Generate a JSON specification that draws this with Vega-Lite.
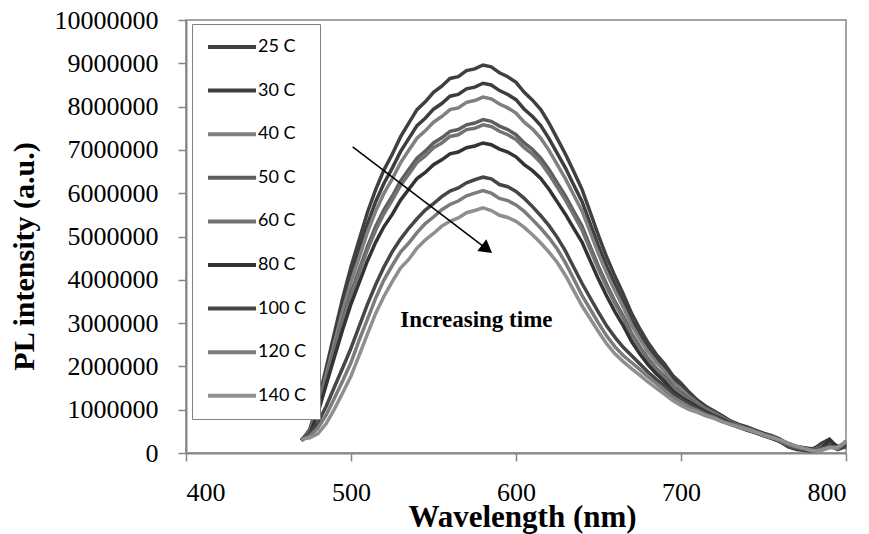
{
  "$schema": "https://vega.github.io/schema/vega-lite/v6.json",
  "width": 660,
  "height": 433,
  "autosize": "none",
  "padding": {"left": 186, "top": 20, "right": 23, "bottom": 81},
  "background": "white",
  "config": {
    "view": {"stroke": "#868686", "strokeWidth": 1.5},
    "axis": {
      "domainColor": "#868686", "domainWidth": 2, "tickColor": "#868686", "tickWidth": 1.5, "tickSize": 8,
      "grid": false, "labelFont": "Liberation Serif", "labelFontSize": 26, "labelColor": "#000",
      "titleFont": "Liberation Serif", "titleFontWeight": "bold", "titleColor": "#000"
    },
    "legend": {
      "orient": "none", "legendX": 6, "legendY": 4, "padding": 14,
      "strokeColor": "#808080", "fillColor": "white",
      "symbolType": "M0,0H24", "symbolSize": 16, "symbolStrokeWidth": 4, "symbolOffset": -7,
      "labelOffset": 41, "labelFont": "Lato", "labelFontSize": 18, "labelColor": "#000",
      "rowPadding": 25.6
    }
  },
  "datasets": {
    "spectra": [
      {"w":470,"25 C":280000,"30 C":300000,"40 C":300000,"50 C":300000,"60 C":300000,"80 C":300000,"100 C":300000,"120 C":300000,"140 C":320000},
      {"w":475,"25 C":540000,"30 C":510000,"40 C":490000,"50 C":460000,"60 C":450000,"80 C":430000,"100 C":450000,"120 C":390000,"140 C":350000},
      {"w":480,"25 C":1160000,"30 C":1110000,"40 C":1070000,"50 C":1000000,"60 C":990000,"80 C":930000,"100 C":700000,"120 C":580000,"140 C":450000},
      {"w":485,"25 C":1970000,"30 C":1880000,"40 C":1810000,"50 C":1690000,"60 C":1670000,"80 C":1580000,"100 C":1080000,"120 C":880000,"140 C":680000},
      {"w":490,"25 C":2780000,"30 C":2650000,"40 C":2550000,"50 C":2390000,"60 C":2350000,"80 C":2220000,"100 C":1530000,"120 C":1270000,"140 C":1020000},
      {"w":495,"25 C":3580000,"30 C":3420000,"40 C":3290000,"50 C":3080000,"60 C":3030000,"80 C":2860000,"100 C":1970000,"120 C":1670000,"140 C":1390000},
      {"w":500,"25 C":4300000,"30 C":4100000,"40 C":3950000,"50 C":3700000,"60 C":3640000,"80 C":3440000,"100 C":2420000,"120 C":2090000,"140 C":1780000},
      {"w":505,"25 C":4930000,"30 C":4700000,"40 C":4520000,"50 C":4240000,"60 C":4170000,"80 C":3940000,"100 C":2930000,"120 C":2610000,"140 C":2260000},
      {"w":510,"25 C":5560000,"30 C":5290000,"40 C":5100000,"50 C":4770000,"60 C":4700000,"80 C":4440000,"100 C":3440000,"120 C":3090000,"140 C":2750000},
      {"w":515,"25 C":6090000,"30 C":5810000,"40 C":5590000,"50 C":5240000,"60 C":5150000,"80 C":4870000,"100 C":3890000,"120 C":3580000,"140 C":3230000},
      {"w":520,"25 C":6540000,"30 C":6230000,"40 C":6000000,"50 C":5620000,"60 C":5530000,"80 C":5230000,"100 C":4300000,"120 C":4000000,"140 C":3620000},
      {"w":525,"25 C":6900000,"30 C":6580000,"40 C":6330000,"50 C":5930000,"60 C":5840000,"80 C":5510000,"100 C":4650000,"120 C":4330000,"140 C":3960000},
      {"w":530,"25 C":7300000,"30 C":6960000,"40 C":6700000,"50 C":6280000,"60 C":6180000,"80 C":5840000,"100 C":4940000,"120 C":4640000,"140 C":4270000},
      {"w":535,"25 C":7620000,"30 C":7260000,"40 C":6990000,"50 C":6550000,"60 C":6440000,"80 C":6090000,"100 C":5190000,"120 C":4850000,"140 C":4470000},
      {"w":540,"25 C":7930000,"30 C":7560000,"40 C":7270000,"50 C":6810000,"60 C":6710000,"80 C":6340000,"100 C":5410000,"120 C":5090000,"140 C":4730000},
      {"w":545,"25 C":8110000,"30 C":7730000,"40 C":7440000,"50 C":6970000,"60 C":6860000,"80 C":6480000,"100 C":5610000,"120 C":5300000,"140 C":4920000},
      {"w":550,"25 C":8330000,"30 C":7940000,"40 C":7640000,"50 C":7160000,"60 C":7050000,"80 C":6660000,"100 C":5760000,"120 C":5450000,"140 C":5070000},
      {"w":555,"25 C":8470000,"30 C":8070000,"40 C":7770000,"50 C":7280000,"60 C":7160000,"80 C":6770000,"100 C":5920000,"120 C":5620000,"140 C":5240000},
      {"w":560,"25 C":8650000,"30 C":8240000,"40 C":7930000,"50 C":7430000,"60 C":7310000,"80 C":6910000,"100 C":6050000,"120 C":5740000,"140 C":5350000},
      {"w":565,"25 C":8690000,"30 C":8280000,"40 C":7970000,"50 C":7470000,"60 C":7350000,"80 C":6950000,"100 C":6120000,"120 C":5820000,"140 C":5430000},
      {"w":570,"25 C":8830000,"30 C":8410000,"40 C":8100000,"50 C":7580000,"60 C":7470000,"80 C":7050000,"100 C":6240000,"120 C":5940000,"140 C":5550000},
      {"w":575,"25 C":8870000,"30 C":8450000,"40 C":8140000,"50 C":7620000,"60 C":7500000,"80 C":7090000,"100 C":6310000,"120 C":6000000,"140 C":5600000},
      {"w":580,"25 C":8960000,"30 C":8540000,"40 C":8220000,"50 C":7700000,"60 C":7580000,"80 C":7160000,"100 C":6370000,"120 C":6060000,"140 C":5660000},
      {"w":585,"25 C":8920000,"30 C":8500000,"40 C":8180000,"50 C":7660000,"60 C":7540000,"80 C":7120000,"100 C":6330000,"120 C":6000000,"140 C":5600000},
      {"w":590,"25 C":8780000,"30 C":8370000,"40 C":8060000,"50 C":7550000,"60 C":7430000,"80 C":7020000,"100 C":6200000,"120 C":5880000,"140 C":5490000},
      {"w":595,"25 C":8690000,"30 C":8280000,"40 C":7970000,"50 C":7470000,"60 C":7350000,"80 C":6950000,"100 C":6150000,"120 C":5830000,"140 C":5440000},
      {"w":600,"25 C":8560000,"30 C":8160000,"40 C":7850000,"50 C":7350000,"60 C":7240000,"80 C":6840000,"100 C":6040000,"120 C":5730000,"140 C":5350000},
      {"w":605,"25 C":8330000,"30 C":7940000,"40 C":7640000,"50 C":7160000,"60 C":7050000,"80 C":6660000,"100 C":5880000,"120 C":5580000,"140 C":5210000},
      {"w":610,"25 C":8150000,"30 C":7770000,"40 C":7480000,"50 C":7010000,"60 C":6900000,"80 C":6520000,"100 C":5690000,"120 C":5390000,"140 C":5040000},
      {"w":615,"25 C":7930000,"30 C":7560000,"40 C":7270000,"50 C":6810000,"60 C":6710000,"80 C":6340000,"100 C":5480000,"120 C":5190000,"140 C":4850000},
      {"w":620,"25 C":7620000,"30 C":7260000,"40 C":6990000,"50 C":6550000,"60 C":6440000,"80 C":6090000,"100 C":5250000,"120 C":4970000,"140 C":4640000},
      {"w":625,"25 C":7260000,"30 C":6920000,"40 C":6660000,"50 C":6240000,"60 C":6140000,"80 C":5800000,"100 C":4980000,"120 C":4710000,"140 C":4400000},
      {"w":630,"25 C":6900000,"30 C":6580000,"40 C":6330000,"50 C":5930000,"60 C":5840000,"80 C":5510000,"100 C":4660000,"120 C":4390000,"140 C":4100000},
      {"w":635,"25 C":6500000,"30 C":6190000,"40 C":5960000,"50 C":5580000,"60 C":5500000,"80 C":5190000,"100 C":4290000,"120 C":4020000,"140 C":3750000},
      {"w":640,"25 C":6090000,"30 C":5810000,"40 C":5590000,"50 C":5240000,"60 C":5150000,"80 C":4870000,"100 C":3920000,"120 C":3640000,"140 C":3400000},
      {"w":645,"25 C":5560000,"30 C":5290000,"40 C":5100000,"50 C":4770000,"60 C":4700000,"80 C":4440000,"100 C":3580000,"120 C":3320000,"140 C":3100000},
      {"w":650,"25 C":5020000,"30 C":4780000,"40 C":4600000,"50 C":4310000,"60 C":4240000,"80 C":4010000,"100 C":3250000,"120 C":3000000,"140 C":2800000},
      {"w":655,"25 C":4520000,"30 C":4310000,"40 C":4150000,"50 C":3890000,"60 C":3830000,"80 C":3620000,"100 C":2930000,"120 C":2700000,"140 C":2520000},
      {"w":660,"25 C":4080000,"30 C":3890000,"40 C":3740000,"50 C":3500000,"60 C":3450000,"80 C":3260000,"100 C":2670000,"120 C":2450000,"140 C":2290000},
      {"w":665,"25 C":3670000,"30 C":3500000,"40 C":3370000,"50 C":3160000,"60 C":3110000,"80 C":2940000,"100 C":2440000,"120 C":2250000,"140 C":2110000},
      {"w":670,"25 C":3230000,"30 C":3070000,"40 C":2960000,"50 C":2770000,"60 C":2730000,"80 C":2580000,"100 C":2250000,"120 C":2090000,"140 C":1950000},
      {"w":675,"25 C":2870000,"30 C":2730000,"40 C":2630000,"50 C":2460000,"60 C":2430000,"80 C":2290000,"100 C":2060000,"120 C":1930000,"140 C":1800000},
      {"w":680,"25 C":2550000,"30 C":2430000,"40 C":2340000,"50 C":2190000,"60 C":2160000,"80 C":2040000,"100 C":1870000,"120 C":1760000,"140 C":1640000},
      {"w":685,"25 C":2280000,"30 C":2180000,"40 C":2100000,"50 C":1960000,"60 C":1930000,"80 C":1830000,"100 C":1700000,"120 C":1610000,"140 C":1500000},
      {"w":690,"25 C":2060000,"30 C":1960000,"40 C":1890000,"50 C":1770000,"60 C":1740000,"80 C":1650000,"100 C":1550000,"120 C":1450000,"140 C":1360000},
      {"w":695,"25 C":1790000,"30 C":1710000,"40 C":1640000,"50 C":1540000,"60 C":1520000,"80 C":1430000,"100 C":1370000,"120 C":1290000,"140 C":1210000},
      {"w":700,"25 C":1610000,"30 C":1540000,"40 C":1480000,"50 C":1390000,"60 C":1360000,"80 C":1290000,"100 C":1250000,"120 C":1180000,"140 C":1100000},
      {"w":705,"25 C":1400000,"30 C":1350000,"40 C":1300000,"50 C":1250000,"60 C":1220000,"80 C":1180000,"100 C":1120000,"120 C":1060000,"140 C":1000000},
      {"w":710,"25 C":1220000,"30 C":1180000,"40 C":1150000,"50 C":1120000,"60 C":1100000,"80 C":1060000,"100 C":1020000,"120 C":980000,"140 C":940000},
      {"w":715,"25 C":1080000,"30 C":1050000,"40 C":1020000,"50 C":1000000,"60 C":980000,"80 C":950000,"100 C":920000,"120 C":880000,"140 C":860000},
      {"w":720,"25 C":970000,"30 C":940000,"40 C":920000,"50 C":900000,"60 C":880000,"80 C":860000,"100 C":840000,"120 C":820000,"140 C":800000},
      {"w":725,"25 C":860000,"30 C":840000,"40 C":820000,"50 C":800000,"60 C":790000,"80 C":780000,"100 C":760000,"120 C":730000,"140 C":720000},
      {"w":730,"25 C":740000,"30 C":720000,"40 C":710000,"50 C":700000,"60 C":690000,"80 C":680000,"100 C":660000,"120 C":660000,"140 C":660000},
      {"w":735,"25 C":660000,"30 C":640000,"40 C":630000,"50 C":620000,"60 C":610000,"80 C":600000,"100 C":600000,"120 C":600000,"140 C":600000},
      {"w":740,"25 C":600000,"30 C":580000,"40 C":560000,"50 C":550000,"60 C":540000,"80 C":530000,"100 C":530000,"120 C":540000,"140 C":550000},
      {"w":745,"25 C":530000,"30 C":510000,"40 C":500000,"50 C":490000,"60 C":480000,"80 C":470000,"100 C":470000,"120 C":480000,"140 C":490000},
      {"w":750,"25 C":460000,"30 C":440000,"40 C":430000,"50 C":420000,"60 C":410000,"80 C":400000,"100 C":400000,"120 C":410000,"140 C":420000},
      {"w":755,"25 C":400000,"30 C":380000,"40 C":370000,"50 C":360000,"60 C":350000,"80 C":340000,"100 C":340000,"120 C":350000,"140 C":360000},
      {"w":760,"25 C":320000,"30 C":300000,"40 C":290000,"50 C":280000,"60 C":270000,"80 C":260000,"100 C":270000,"120 C":290000,"140 C":300000},
      {"w":765,"25 C":200000,"30 C":220000,"40 C":200000,"50 C":190000,"60 C":180000,"80 C":160000,"100 C":140000,"120 C":200000,"140 C":220000},
      {"w":770,"25 C":140000,"30 C":150000,"40 C":140000,"50 C":130000,"60 C":120000,"80 C":100000,"100 C":80000,"120 C":140000,"140 C":160000},
      {"w":775,"25 C":120000,"30 C":110000,"40 C":100000,"50 C":100000,"60 C":90000,"80 C":80000,"100 C":60000,"120 C":100000,"140 C":100000},
      {"w":780,"25 C":80000,"30 C":100000,"40 C":60000,"50 C":70000,"60 C":50000,"80 C":40000,"100 C":40000,"120 C":40000,"140 C":50000},
      {"w":785,"25 C":220000,"30 C":180000,"40 C":150000,"50 C":140000,"60 C":120000,"80 C":100000,"100 C":100000,"120 C":80000,"140 C":60000},
      {"w":790,"25 C":320000,"30 C":280000,"40 C":250000,"50 C":220000,"60 C":200000,"80 C":300000,"100 C":180000,"120 C":140000,"140 C":120000},
      {"w":795,"25 C":120000,"30 C":150000,"40 C":100000,"50 C":120000,"60 C":100000,"80 C":120000,"100 C":80000,"120 C":100000,"140 C":140000},
      {"w":800,"25 C":250000,"30 C":220000,"40 C":220000,"50 C":200000,"60 C":180000,"80 C":180000,"100 C":150000,"120 C":280000,"140 C":250000}
    ],
    "arrow": [{"x1": 501, "y1": 7070000, "x2": 582.4, "y2": 4710000}],
    "label": [{"x": 576, "y": 2910000, "text": "Increasing time"}]
  },
  "layer": [
    {
      "data": {"name": "spectra"},
      "transform": [{"fold": ["25 C","30 C","40 C","50 C","60 C","80 C","100 C","120 C","140 C"], "as": ["series","intensity"]}],
      "mark": {"type": "line", "strokeWidth": 3.5},
      "encoding": {
        "x": {"field": "w", "type": "quantitative", "scale": {"domain": [400, 800], "nice": false},
              "axis": {"values": [400,500,600,700,800], "title": "Wavelength (nm)", "titleFontSize": 31,
                       "labelPadding": 18, "titleBaseline": "alphabetic", "titleX": 336, "titleY": 73}},
        "y": {"field": "intensity", "type": "quantitative", "scale": {"domain": [0, 10000000], "nice": false},
              "axis": {"values": [0,1000000,2000000,3000000,4000000,5000000,6000000,7000000,8000000,9000000,10000000],
                       "format": "d", "title": "PL intensity (a.u.)", "titleFontSize": 30, "labelPadding": 20,
                       "titleBaseline": "alphabetic", "titleX": -153, "titleY": 236}},
        "color": {"field": "series", "type": "nominal", "title": null,
                  "scale": {"domain": ["25 C","30 C","40 C","50 C","60 C","80 C","100 C","120 C","140 C"],
                            "range": ["#404040","#3e3e3e","#808080","#5e5e5e","#727272","#333333","#464646","#7c7c7c","#8f8f8f"]}},
        "order": {"field": "series"}
      }
    },
    {
      "data": {"name": "arrow"},
      "mark": {"type": "rule", "color": "#000", "strokeWidth": 1.5},
      "encoding": {
        "x": {"field": "x1", "type": "quantitative"},
        "y": {"field": "y1", "type": "quantitative"},
        "x2": {"field": "x2"},
        "y2": {"field": "y2"}
      }
    },
    {
      "data": {"name": "arrow"},
      "mark": {"type": "point", "shape": "triangle-right", "filled": true, "color": "#000", "size": 220, "angle": 37.3, "opacity": 1},
      "encoding": {
        "x": {"field": "x2", "type": "quantitative"},
        "y": {"field": "y2", "type": "quantitative"}
      }
    },
    {
      "data": {"name": "label"},
      "mark": {"type": "text", "font": "Liberation Serif", "fontWeight": "bold", "fontSize": 23, "align": "center", "baseline": "alphabetic", "color": "#000"},
      "encoding": {
        "x": {"field": "x", "type": "quantitative"},
        "y": {"field": "y", "type": "quantitative"},
        "text": {"field": "text"}
      }
    }
  ]
}
